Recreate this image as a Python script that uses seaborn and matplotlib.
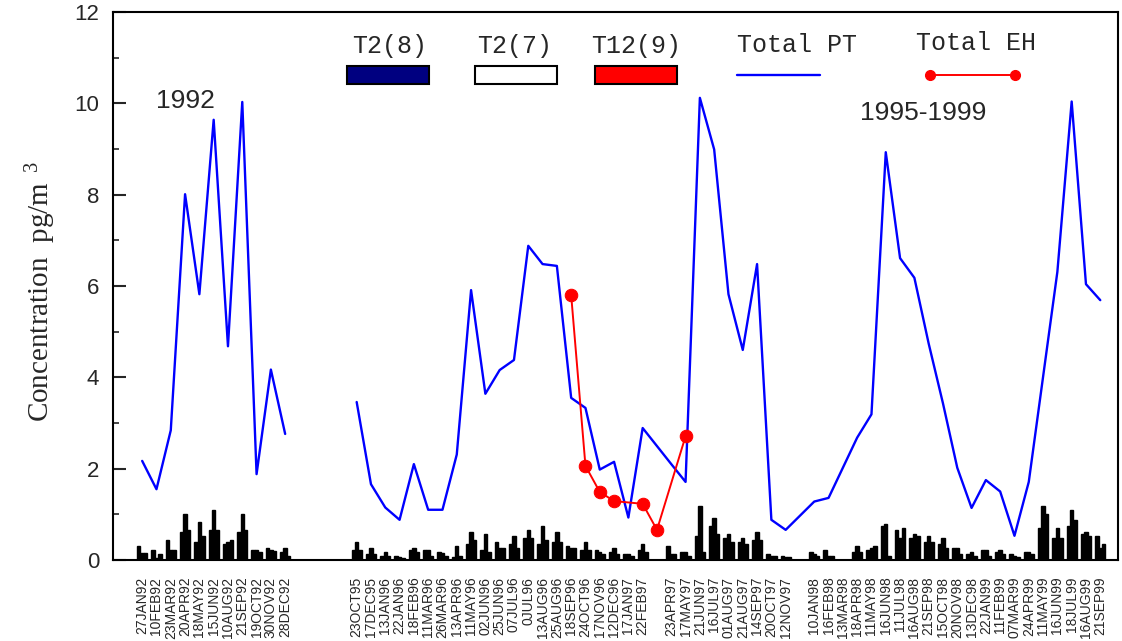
import numpy as np
import pandas as pd
import matplotlib
matplotlib.use("Agg")
import matplotlib.pyplot as plt
from matplotlib.patches import Rectangle
from matplotlib.lines import Line2D
from matplotlib.ticker import MultipleLocator
import seaborn as sns

# ---------------- data ----------------
dates_1992 = ["27JAN92", "10FEB92", "23MAR92", "20APR92", "18MAY92", "15JUN92",
              "10AUG92", "21SEP92", "19OCT92", "30NOV92", "28DEC92"]
pt_1992 = [2.17, 1.55, 2.84, 8.01, 5.82, 9.64, 4.68, 10.03, 1.88, 4.17, 2.76]
t28_1992 = [0.31, 0.22, 0.44, 0.62, 0.40, 0.66, 0.36, 0.62, 0.22, 0.26, 0.18]
t27_1992 = [0.15, 0.04, 0.22, 1.01, 0.83, 1.09, 0.40, 1.00, 0.22, 0.22, 0.26]
t129_1992 = [0.15, 0.13, 0.22, 0.66, 0.53, 0.66, 0.44, 0.66, 0.18, 0.19, 0.09]

dates_9599 = ["23OCT95", "17DEC95", "13JAN96", "22JAN96", "18FEB96", "11MAR96",
              "26MAR96", "13APR96", "11MAY96", "02JUN96", "25JUN96", "07JUL96",
              "0JUL96", "13AUG96", "25AUG96", "18SEP96", "24OCT96", "17NOV96",
              "12DEC96", "17JAN97", "22FEB97", "", "23APR97", "17MAY97",
              "21JUN97", "16JUL97", "01AUG97", "21AUG97", "14SEP97", "20OCT97",
              "12NOV97", "", "10JAN98", "16FEB98", "13MAR98", "18APR98",
              "11MAY98", "16JUN98", "11JUL98", "16AUG98", "21SEP98", "15OCT98",
              "20NOV98", "13DEC98", "22JAN99", "11FEB99", "07MAR99", "24APR99",
              "11MAY99", "16JUN99", "18JUL99", "16AUG99", "21SEP99"]
pt_9599 = [3.46, 1.66, 1.15, 0.88, 2.10, 1.10, 1.10, 2.31, 5.91, 3.64, 4.16, 4.38,
           6.88, 6.48, 6.44, 3.55, 3.33, 1.98, 2.15, 0.93, 2.89, None, 2.10, 1.71,
           10.12, 8.99, 5.82, 4.60, 6.48, 0.88, 0.66, None, 1.28, 1.36, 2.02, 2.68,
           3.19, 8.93, 6.61, 6.18, 4.74, 3.43, 2.02, 1.14, 1.75, 1.50, 0.53, 1.71,
           4.01, 6.31, 10.04, 6.04, 5.69]
eh_9599 = [None] * 15 + [5.80, 2.06, 1.49, 1.29, None, 1.23, 0.66, None, 2.71] + [None] * 29
t28_9599 = [0.22, 0.13, 0.09, 0.09, 0.22, 0.22, 0.18, 0.07, 0.35, 0.22, 0.39, 0.35,
            0.48, 0.35, 0.39, 0.31, 0.22, 0.22, 0.18, 0.13, 0.22, None, 0.31, 0.18,
            0.53, 0.74, 0.48, 0.39, 0.44, 0.13, 0.09, None, 0.18, 0.22, None, 0.18,
            0.22, 0.74, 0.66, 0.48, 0.39, 0.35, 0.26, 0.13, 0.22, 0.18, 0.13, 0.18,
            0.70, 0.48, 0.74, 0.57, 0.53]
t27_9599 = [0.40, 0.26, 0.18, 0.07, 0.26, 0.22, 0.15, 0.31, 0.61, 0.57, 0.26, 0.53,
            0.66, 0.74, 0.61, 0.26, 0.39, 0.18, 0.26, 0.13, 0.35, None, 0.13, 0.18,
            1.18, 0.92, 0.57, 0.48, 0.61, 0.09, 0.06, None, 0.13, 0.09, None, 0.31,
            0.26, 0.79, 0.48, 0.57, 0.53, 0.48, 0.26, 0.18, 0.22, 0.22, 0.09, 0.18,
            1.18, 0.70, 1.09, 0.61, 0.26]
t129_9599 = [0.22, 0.13, 0.09, 0.04, 0.18, 0.09, 0.09, 0.09, 0.44, 0.18, 0.26, 0.26,
             0.48, 0.44, 0.39, 0.26, 0.22, 0.13, 0.13, 0.09, 0.18, None, 0.13, 0.09,
             0.18, 0.57, 0.39, 0.35, 0.44, 0.09, 0.06, None, 0.09, 0.09, None, 0.18,
             0.31, 0.09, 0.70, 0.53, 0.39, 0.26, 0.13, 0.09, 0.09, 0.13, 0.06, 0.13,
             1.01, 0.48, 0.88, 0.53, 0.35]

series_names = ["T2(8)", "T2(7)", "T12(9)"]
yticks = [0, 2, 4, 6, 8, 10, 12]

# ---------------- build frames ----------------
gap_slots = 4
labels = dates_1992 + [""] * gap_slots + dates_9599
pos_1992 = list(range(len(dates_1992)))
off = len(dates_1992) + gap_slots
pos_9599 = [off + i for i in range(len(dates_9599))]

rows = []
for name, a92, a95 in zip(series_names, [t28_1992, t27_1992, t129_1992],
                          [t28_9599, t27_9599, t129_9599]):
    for p, v in zip(pos_1992 + pos_9599, list(a92) + list(a95)):
        if v is not None:
            rows.append((p, name, v))
bars = pd.DataFrame(rows, columns=["pos", "series", "value"])

pt92 = pd.DataFrame({"pos": pos_1992, "value": pt_1992}).dropna()
pt95 = pd.DataFrame({"pos": pos_9599, "value": pd.to_numeric(pd.Series(pt_9599), errors="coerce")}).dropna()
eh95 = pd.DataFrame({"pos": pos_9599, "value": pd.to_numeric(pd.Series(eh_9599), errors="coerce")}).dropna()

# ---------------- style ----------------
sns.set_style("white")
plt.rcParams["font.family"] = ["Liberation Sans", "DejaVu Sans"]
plt.rcParams["mathtext.fontset"] = "custom"
plt.rcParams["mathtext.rm"] = "Liberation Serif"
plt.rcParams["mathtext.it"] = "Liberation Serif:italic"

W, H = 1122, 641
fig = plt.figure(figsize=(W / 100, H / 100), dpi=100)
ax = fig.add_axes([113 / W, (H - 560) / H, 1005 / W, 548 / H])

sns.barplot(data=bars, x="pos", y="value", hue="series", hue_order=series_names,
            native_scale=True, palette={n: "black" for n in series_names},
            width=0.72, errorbar=None, saturation=1, legend=False,
            edgecolor="black", linewidth=1.0, ax=ax)

sns.lineplot(data=pt92, x="pos", y="value", color="#0000ff", lw=1.7, sort=False, ax=ax)
sns.lineplot(data=pt95, x="pos", y="value", color="#0000ff", lw=1.7, sort=False, ax=ax)
sns.lineplot(data=eh95, x="pos", y="value", color="#ff0000", lw=1.4, sort=False,
             marker="o", markersize=9, markeredgecolor="#ff0000", ax=ax)

ax.set_xlim(-2.04, len(labels) - 1 + 1.24)
ax.set_ylim(0, 12)
ax.set_xticks(range(len(labels)))
ax.set_xticklabels(labels, rotation=90, fontsize=10)
ax.tick_params(axis="x", length=0, pad=12)
ax.set_yticks(yticks)
ax.set_yticklabels([str(v) for v in yticks], fontsize=16)
ax.yaxis.set_minor_locator(MultipleLocator(1))
ax.tick_params(axis="y", which="major", direction="in", length=9, width=1.5, pad=10, left=True)
ax.tick_params(axis="y", which="minor", direction="in", length=4.5, width=1.2, left=True)
ax.set_xlabel("")
ax.set_ylabel(r"Concentration  pg/m$^{\ \ 3}$", fontfamily="Liberation Serif", fontsize=21)
ax.yaxis.set_label_coords(-0.055, 0.49)
for s in ax.spines.values():
    s.set_visible(True)
    s.set_color("black")
    s.set_linewidth(1.5)

# annotations
def fx(px):
    return px / W

def fy(py):
    return (H - py) / H

fig.text(fx(185), fy(101), "1992", fontsize=19, ha="center", va="center")
fig.text(fx(923), fy(113), "1995-1999", fontsize=19, ha="center", va="center")

# legend (drawn by hand)
mono = "Liberation Mono"
for txt, cx, cy in [("T2(8)", 390, 46), ("T2(7)", 515, 46), ("T12(9)", 636, 46),
                    ("Total PT", 797, 45), ("Total EH", 976, 43)]:
    fig.text(fx(cx), fy(cy), txt, fontsize=18, fontfamily=mono, ha="center", va="center")
for x0, col in [(347, "#000080"), (475, "white"), (595, "#ff0000")]:
    fig.add_artist(Rectangle((fx(x0), fy(84)), 82 / W, 18 / H, facecolor=col,
                             edgecolor="black", linewidth=1.5, transform=fig.transFigure))
fig.add_artist(Line2D([fx(737), fx(820)], [fy(75), fy(75)], color="#0000ff", lw=1.7,
                      transform=fig.transFigure))
fig.add_artist(Line2D([fx(930), fx(1015)], [fy(75), fy(75)], color="#ff0000", lw=1.4,
                      marker="o", markersize=7, transform=fig.transFigure))

fig.savefig("out.png", dpi=100)
